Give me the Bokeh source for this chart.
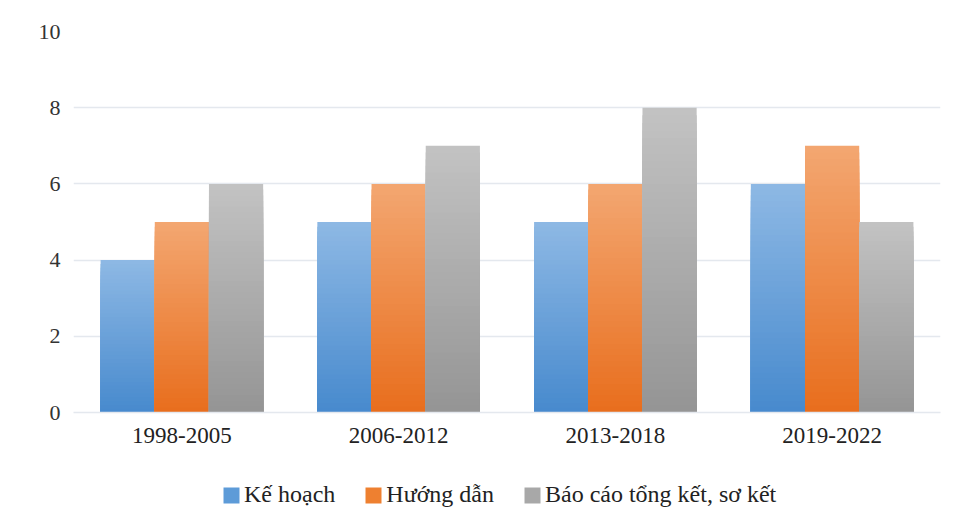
from bokeh.plotting import figure
from bokeh.layouts import column
from bokeh.models import ColumnDataSource, FactorRange, FixedTicker, Legend, LegendItem
from bokeh.transform import dodge
from bokeh.embed import file_html
from bokeh.resources import INLINE

categories = ["1998-2005", "2006-2012", "2013-2018", "2019-2022"]
ke_hoach = [4, 5, 5, 6]
huong_dan = [5, 6, 6, 7]
bao_cao = [6, 7, 8, 5]
series_names = ["Kế hoạch", "Hướng dẫn", "Báo cáo tổng kết, sơ kết"]
y_ticks = [0, 2, 4, 6, 8, 10]

# gradient colours (top, bottom)
grad = [((141, 184, 228), (70, 137, 205)),
        ((243, 166, 112), (232, 109, 28)),
        ((194, 194, 194), (148, 148, 148))]
swatch = ["#5d9bd8", "#ee8030", "#a8a8a8"]
offsets = [-0.25, 0.0, 0.25]
N = 40

FONT = "Liberation Serif"

p = figure(x_range=FactorRange(*categories, range_padding=0), y_range=(0, 10),
           width=949, height=460, output_backend="svg", toolbar_location=None,
           min_border_left=73, min_border_right=9, min_border_top=31, min_border_bottom=48)
p.outline_line_color = None
p.background_fill_color = "white"
p.border_fill_color = "white"

def mix(c1, c2, t):
    return "#%02x%02x%02x" % tuple(int(round(a + (b - a) * t)) for a, b in zip(c1, c2))

for s, vals in enumerate([ke_hoach, huong_dan, bao_cao]):
    top_c, bot_c = grad[s]
    xs, tops, cols = [], [], []
    for k in range(N, 0, -1):
        f = k / N
        col = mix(bot_c, top_c, f)
        for c, v in zip(categories, vals):
            xs.append(c)
            tops.append(v * f)
            cols.append(col)
    src = ColumnDataSource(dict(x=xs, top=tops, color=cols))
    p.vbar(x=dodge("x", offsets[s], range=p.x_range), top="top", bottom=0,
           width=0.25, source=src, fill_color="color", line_color=None)

p.xgrid.grid_line_color = None
p.ygrid.grid_line_color = "#e4e8ee"
p.ygrid.grid_line_width = 1.5
p.yaxis.ticker = FixedTicker(ticks=y_ticks)
p.yaxis.axis_line_color = None
p.yaxis.major_tick_line_color = None
p.yaxis.major_tick_out = 0
p.yaxis.major_tick_in = 0
p.yaxis.minor_tick_line_color = None
p.yaxis.major_label_standoff = 13
p.yaxis.major_label_text_font = FONT
p.yaxis.major_label_text_font_size = "22px"
p.yaxis.major_label_text_color = "#333333"

p.xaxis.axis_line_color = "#e4e8ee"
p.xaxis.axis_line_width = 1.5
p.xaxis.major_tick_line_color = None
p.xaxis.major_tick_out = 0
p.xaxis.major_tick_in = 0
p.xaxis.minor_tick_line_color = None
p.xaxis.major_label_standoff = 15
p.xaxis.major_label_text_font = FONT
p.xaxis.major_label_text_font_size = "23px"
p.xaxis.major_label_text_color = "#222222"

# legend strip below the chart (frame is aligned with the chart frame)
lg = figure(x_range=(0, 1), y_range=(0, 1), width=949, height=67,
            output_backend="svg", toolbar_location=None,
            min_border_left=73, min_border_right=9, min_border_top=0, min_border_bottom=0)
lg.axis.visible = False
lg.grid.visible = False
lg.outline_line_color = None
items = []
for s in range(3):
    # zero-height bars: nothing drawn, only used for the legend swatch
    r = lg.vbar(x=[0.5], top=[0], bottom=[0], width=0.0, fill_color=swatch[s], line_color=None)
    items.append(LegendItem(label=series_names[s], renderers=[r]))
legend = Legend(items=items, orientation="horizontal", location=(148, 19),
                glyph_width=20, glyph_height=20, label_standoff=3, spacing=28,
                padding=0, margin=0, border_line_color=None, background_fill_alpha=0,
                label_text_font=FONT, label_text_font_size="24px",
                label_text_color="#222222")
lg.add_layout(legend, "center")

open("out.html", "w").write(file_html(column(p, lg, spacing=0), INLINE))
